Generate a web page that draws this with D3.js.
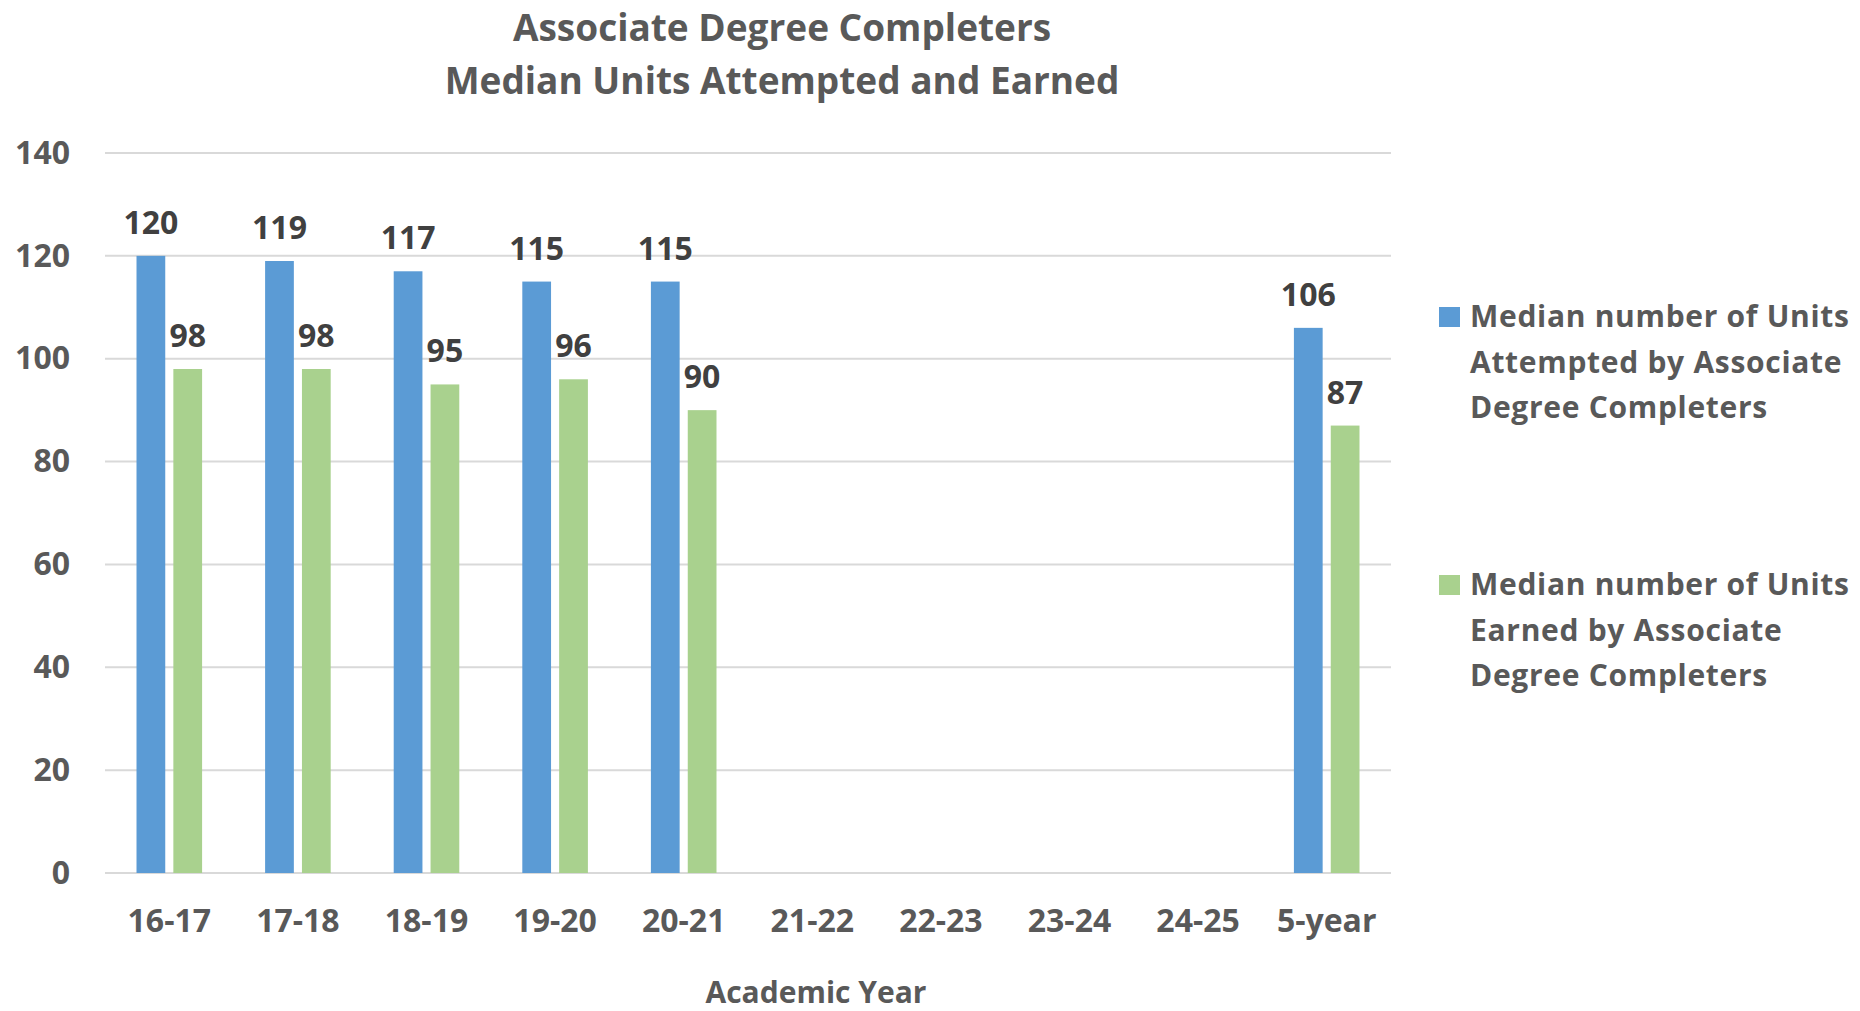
<!DOCTYPE html>
<html>
<head>
<meta charset="utf-8">
<script src="https://cdn.jsdelivr.net/npm/d3@7"></script>
<style>
  body { margin: 0; background: #fff; }
  text { font-family: "Open Sans", sans-serif; font-weight: 700; }
</style>
</head>
<body>
<div id="chart"></div>
<script>
// data
var years = ['16-17', '17-18', '18-19', '19-20', '20-21', '21-22', '22-23', '23-24', '24-25', '5-year'];
var attempted = [120, 119, 117, 115, 115, null, null, null, null, 106];
var earned = [98, 98, 95, 96, 90, null, null, null, null, 87];
var seriesNames = ['Median number of Units Attempted by Associate Degree Completers',
    'Median number of Units Earned by Associate Degree Completers'];
var yTicks = [0, 20, 40, 60, 80, 100, 120, 140];

var width = 1860;
var height = 1011;
var margin = {left: 105, right: 469, top: 153, bottom: 138};

var svg = d3.select("#chart").append("svg")
    .attr("width", width)
    .attr("height", height);

var rows = years.map((y, i) => ({year: y, vals: [attempted[i], earned[i]]}));
var colors = ['#5B9BD5', '#A9D18E'];

var x0 = d3.scaleBand()
    .domain(years)
    .range([margin.left, width - margin.right])
    .paddingInner(0.49)
    .paddingOuter(0.245);

var x1 = d3.scaleBand()
    .domain([0, 1])
    .range([0, x0.bandwidth()])
    .paddingInner(0.22);

var y = d3.scaleLinear()
    .domain([0, 140])
    .range([height - margin.bottom, margin.top]);

// gridlines
svg.append('g')
    .selectAll('line')
    .data(yTicks)
    .enter()
    .append('line')
    .attr('x1', margin.left)
    .attr('x2', width - margin.right)
    .attr('y1', d => y(d))
    .attr('y2', d => y(d))
    .attr('stroke', '#d9d9d9')
    .attr('stroke-width', 2);

// y axis labels
var yAxis = d3.axisLeft(y).tickValues(yTicks).tickSize(0).tickPadding(35);
svg.append('g')
    .attr('transform', `translate(${margin.left},0)`)
    .call(yAxis)
    .call(g => g.select('.domain').remove())
    .selectAll('text')
    .attr('font-size', 32)
    .attr('font-family', null)
    .attr('fill', '#595959');

// x axis labels
var xAxis = d3.axisBottom(x0).tickSize(0).tickPadding(36);
svg.append('g')
    .attr('transform', `translate(0,${y(0)})`)
    .call(xAxis)
    .call(g => g.select('.domain').remove())
    .selectAll('text')
    .attr('font-size', 32)
    .attr('font-family', null)
    .attr('fill', '#595959');

// bars
var groups = svg.append('g')
    .selectAll('g')
    .data(rows)
    .enter()
    .append('g')
    .attr('transform', d => `translate(${x0(d.year)},0)`);

groups.selectAll('rect')
    .data(d => d.vals.map((v, i) => ({i: i, v: v})).filter(e => e.v != null))
    .enter()
    .append('rect')
    .attr('x', d => x1(d.i))
    .attr('width', x1.bandwidth())
    .attr('y', d => y(d.v))
    .attr('height', d => y(0) - y(d.v))
    .attr('fill', d => colors[d.i]);

groups.selectAll('text')
    .data(d => d.vals.map((v, i) => ({i: i, v: v})).filter(e => e.v != null))
    .enter()
    .append('text')
    .attr('x', d => x1(d.i) + x1.bandwidth() / 2)
    .attr('y', d => y(d.v) - 22)
    .attr('text-anchor', 'middle')
    .attr('font-size', 32)
    .attr('fill', '#404040')
    .text(d => d.v);

// title
var title = svg.append('g').attr('transform', 'translate(782,0)');
title.append('text')
    .attr('y', 41)
    .attr('text-anchor', 'middle')
    .attr('font-size', 37)
    .attr('fill', '#595959')
    .text('Associate Degree Completers');
title.append('text')
    .attr('y', 94)
    .attr('text-anchor', 'middle')
    .attr('font-size', 37)
    .attr('fill', '#595959')
    .text('Median Units Attempted and Earned');

svg.append('text')
    .attr('x', 816)
    .attr('y', 1003)
    .attr('text-anchor', 'middle')
    .attr('font-size', 30)
    .attr('fill', '#595959')
    .text('Academic Year');

// legend
var legendLines = [
    ['Median number of Units', 'Attempted by Associate', 'Degree Completers'],
    ['Median number of Units', 'Earned by Associate', 'Degree Completers']
];
var legendTop = [327, 595];

legendLines.forEach((lines, i) => {
    var lg = svg.append('g').attr('transform', `translate(1439,${legendTop[i]})`);
    lg.append('rect')
        .attr('y', -20)
        .attr('width', 21)
        .attr('height', 20)
        .attr('fill', colors[i]);
    lines.forEach((t, j) => {
        lg.append('text')
            .attr('x', 31)
            .attr('y', j * 45.5)
            .attr('font-size', 30)
            .attr('letter-spacing', 0.7)
            .attr('fill', '#595959')
            .text(t);
    });
});
</script>
</body>
</html>
